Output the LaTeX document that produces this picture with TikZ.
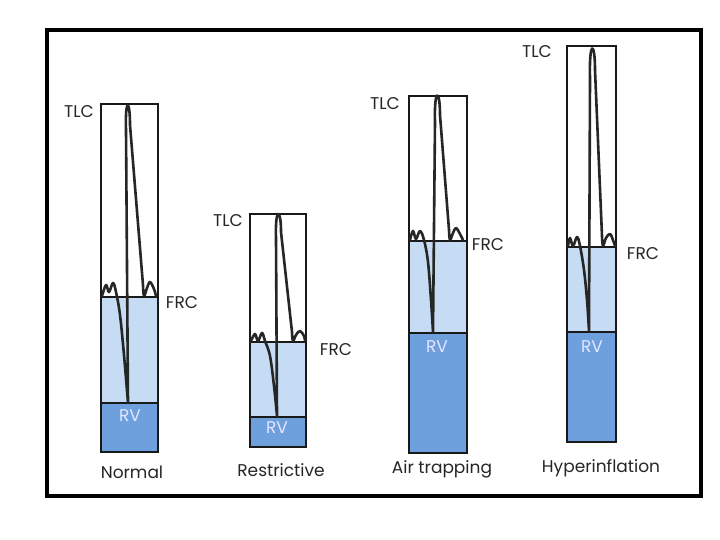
\documentclass[tikz,border=0pt]{standalone}
\usepackage{fontspec}
\setmainfont{Poppins}
\definecolor{lightvol}{RGB}{198,220,244}
\definecolor{darkvol}{RGB}{110,160,222}

\begin{document}
\begin{tikzpicture}[
        x=1pt, y=-1pt,
        font=\fontsize{17}{19}\selectfont,
        frame_line/.style={line width=3.5pt, black},
        box_line/.style={draw=black!90, line width=1.3pt},
        trace/.style={line width=2.6pt, black!85, line join=round, line cap=round},
        vol_label/.style={text=black!85, inner sep=0pt},
        rv_label/.style={text=white!90!blue, inner sep=0pt},
        name_label/.style={text=black!85, inner sep=0pt}
    ]
    \useasboundingbox[fill=white] (0,0) rectangle (720,540);

    % Slide frame
    \draw[frame_line] (47,30) rectangle (701,496);

    % Normal
    \fill[lightvol] (101,297) rectangle (158,403);
    \fill[darkvol] (101,403) rectangle (158,452);
    \draw[box_line] (101,104) rectangle (158,452);
    \draw[box_line] (101,297) -- (158,297);
    \draw[box_line] (101,403) -- (158,403);
    \draw[trace] plot[smooth, tension=0.6] coordinates {(102,296) (106,285) (109,292) (113,283) (116,292) (120,315) (124,355) (128,403)}
        -- (126,130) .. controls (125,98) and (130,98) .. (130,125)
        -- plot[smooth, tension=0.6] coordinates {(143,285) (144,296) (147,288) (150,282) (154,289) (156,296)};
    \node[vol_label] (tlcNormal) at (79,112) {TLC};
    \node[vol_label] (frcNormal) at (182,303) {FRC};
    \node[rv_label] (rvNormal) at (130,416) {RV};
    \node[name_label] (nameNormal) at (132,472) {Normal};

    % Restrictive
    \fill[lightvol] (250,342) rectangle (306,417);
    \fill[darkvol] (250,417) rectangle (306,447);
    \draw[box_line] (250,214) rectangle (306,447);
    \draw[box_line] (250,342) -- (306,342);
    \draw[box_line] (250,417) -- (306,417);
    \draw[trace] plot[smooth, tension=0.6] coordinates {(251,341) (255,334) (258,341) (262,333) (265,341) (270,356) (274,386) (277,416)}
        -- (276,238) .. controls (275,207) and (281,207) .. (281,232)
        -- plot[smooth, tension=0.6] coordinates {(292,332) (293,341) (296,335) (300,331) (304,336) (305,341)};
    \node[vol_label] (tlcRestr) at (228,221) {TLC};
    \node[vol_label] (frcRestr) at (336,350) {FRC};
    \node[rv_label] (rvRestr) at (277,428) {RV};
    \node[name_label] (nameRestr) at (281,470) {Restrictive};

    % Air trapping
    \fill[lightvol] (409,241) rectangle (467,333);
    \fill[darkvol] (409,333) rectangle (467,453);
    \draw[box_line] (409,96) rectangle (467,453);
    \draw[box_line] (409,241) -- (467,241);
    \draw[box_line] (409,333) -- (467,333);
    \draw[trace] plot[smooth, tension=0.6] coordinates {(410,240) (413,231) (416,239) (420,231) (424,240) (428,262) (431,300) (433,332)}
        -- (435,122) .. controls (434,88) and (440,88) .. (440,115)
        -- plot[smooth, tension=0.6] coordinates {(449,230) (450,240) (453,233) (456,228) (460,234) (463,240)};
    \node[vol_label] (tlcAir) at (385,104) {TLC};
    \node[vol_label] (frcAir) at (488,245) {FRC};
    \node[rv_label] (rvAir) at (437,347) {RV};
    \node[name_label] (nameAir) at (442,469) {Air trapping};

    % Hyperinflation
    \fill[lightvol] (567,247) rectangle (616,332);
    \fill[darkvol] (567,332) rectangle (616,442);
    \draw[box_line] (567,46) rectangle (616,442);
    \draw[box_line] (567,247) -- (616,247);
    \draw[box_line] (567,332) -- (616,332);
    \draw[trace] plot[smooth, tension=0.6] coordinates {(568,246) (570,238) (573,246) (577,237) (580,246) (584,270) (587,300) (589,331)}
        -- (590,78) .. controls (589,40) and (595,40) .. (595,70)
        -- plot[smooth, tension=0.6] coordinates {(602,236) (603,246) (606,238) (610,234) (613,240) (615,246)};
    \node[vol_label] (tlcHyper) at (537,52) {TLC};
    \node[vol_label] (frcHyper) at (643,254) {FRC};
    \node[rv_label] (rvHyper) at (592,347) {RV};
    \node[name_label] (nameHyper) at (601,468) {Hyperinflation};

\end{tikzpicture}
\end{document}
